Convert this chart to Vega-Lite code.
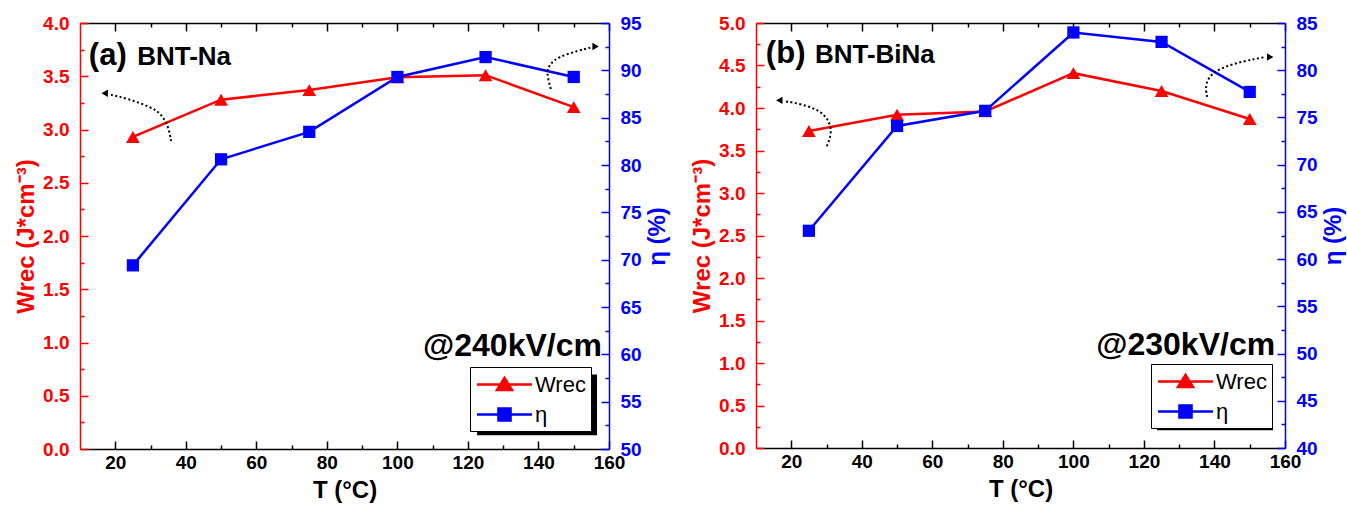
{
  "$schema": "https://vega.github.io/schema/vega-lite/v6.json",
  "padding": {"left": 14, "top": 14, "right": 5, "bottom": 5},
  "spacing": 20,
  "config": {
    "view": {"stroke": null},
    "font": "Liberation Sans",
    "axis": {"labelFont": "Liberation Sans", "labelFontWeight": "bold", "labelFontSize": 19, "titleFont": "Liberation Sans", "titleFontWeight": "bold", "titleFontSize": 24, "grid": false, "domainWidth": 1.5, "tickWidth": 1.5, "labelFlush": false}
  },
  "datasets": {
    "main": [
      {"panel": "a", "series": "Wrec", "T": 25, "value": 2.93},
      {"panel": "a", "series": "Wrec", "T": 50, "value": 3.28},
      {"panel": "a", "series": "Wrec", "T": 75, "value": 3.37},
      {"panel": "a", "series": "Wrec", "T": 100, "value": 3.49},
      {"panel": "a", "series": "Wrec", "T": 125, "value": 3.51},
      {"panel": "a", "series": "Wrec", "T": 150, "value": 3.21},
      {"panel": "a", "series": "η", "T": 25, "value": 69.4},
      {"panel": "a", "series": "η", "T": 50, "value": 80.6},
      {"panel": "a", "series": "η", "T": 75, "value": 83.5},
      {"panel": "a", "series": "η", "T": 100, "value": 89.3},
      {"panel": "a", "series": "η", "T": 125, "value": 91.4},
      {"panel": "a", "series": "η", "T": 150, "value": 89.3},
      {"panel": "b", "series": "Wrec", "T": 25, "value": 3.73},
      {"panel": "b", "series": "Wrec", "T": 50, "value": 3.92},
      {"panel": "b", "series": "Wrec", "T": 75, "value": 3.96},
      {"panel": "b", "series": "Wrec", "T": 100, "value": 4.41},
      {"panel": "b", "series": "Wrec", "T": 125, "value": 4.2},
      {"panel": "b", "series": "Wrec", "T": 150, "value": 3.87},
      {"panel": "b", "series": "η", "T": 25, "value": 63.0},
      {"panel": "b", "series": "η", "T": 50, "value": 74.1},
      {"panel": "b", "series": "η", "T": 75, "value": 75.7},
      {"panel": "b", "series": "η", "T": 100, "value": 84.0},
      {"panel": "b", "series": "η", "T": 125, "value": 83.0},
      {"panel": "b", "series": "η", "T": 150, "value": 77.7}
    ],
    "notes": [
      {"panel": "a", "kind": "tag", "text": "(a)", "x": 12.5, "y": 3.61},
      {"panel": "a", "kind": "name", "text": "BNT-Na", "x": 26.2, "y": 3.61},
      {"panel": "a", "kind": "field", "text": "@240kV/cm", "x": 158.0, "y": 0.87},
      {"panel": "b", "kind": "tag", "text": "(b)", "x": 12.8, "y": 4.53},
      {"panel": "b", "kind": "name", "text": "BNT-BiNa", "x": 26.7, "y": 4.53},
      {"panel": "b", "kind": "field", "text": "@230kV/cm", "x": 157.2, "y": 1.1}
    ],
    "arrows": [
      {"panel": "a", "id": "L", "o": 1, "x": 35.8, "y": 2.89},
      {"panel": "a", "id": "L", "o": 2, "x": 35.2, "y": 3.02},
      {"panel": "a", "id": "L", "o": 3, "x": 33.0, "y": 3.15},
      {"panel": "a", "id": "L", "o": 4, "x": 30.1, "y": 3.21},
      {"panel": "a", "id": "L", "o": 5, "x": 23.6, "y": 3.29},
      {"panel": "a", "id": "L", "o": 6, "x": 18.2, "y": 3.33},
      {"panel": "a", "id": "R", "o": 1, "x": 143.5, "y": 3.38},
      {"panel": "a", "id": "R", "o": 2, "x": 142.1, "y": 3.55},
      {"panel": "a", "id": "R", "o": 3, "x": 143.5, "y": 3.62},
      {"panel": "a", "id": "R", "o": 4, "x": 145.5, "y": 3.68},
      {"panel": "a", "id": "R", "o": 5, "x": 151.2, "y": 3.74},
      {"panel": "a", "id": "R", "o": 6, "x": 154.9, "y": 3.77},
      {"panel": "b", "id": "L", "o": 1, "x": 30.1, "y": 3.55},
      {"panel": "b", "id": "L", "o": 2, "x": 31.8, "y": 3.74},
      {"panel": "b", "id": "L", "o": 3, "x": 29.8, "y": 3.92},
      {"panel": "b", "id": "L", "o": 4, "x": 25.9, "y": 4.01},
      {"panel": "b", "id": "L", "o": 5, "x": 20.2, "y": 4.07},
      {"panel": "b", "id": "L", "o": 6, "x": 17.9, "y": 4.08},
      {"panel": "b", "id": "R", "o": 1, "x": 137.9, "y": 4.13},
      {"panel": "b", "id": "R", "o": 2, "x": 137.3, "y": 4.28},
      {"panel": "b", "id": "R", "o": 3, "x": 139.3, "y": 4.42},
      {"panel": "b", "id": "R", "o": 4, "x": 145.0, "y": 4.52},
      {"panel": "b", "id": "R", "o": 5, "x": 151.8, "y": 4.58},
      {"panel": "b", "id": "R", "o": 6, "x": 154.5, "y": 4.6}
    ],
    "heads": [
      {"panel": "a", "dir": "left", "x": 17.0, "y": 3.34},
      {"panel": "a", "dir": "right", "x": 156.2, "y": 3.78},
      {"panel": "b", "dir": "left", "x": 16.6, "y": 4.09},
      {"panel": "b", "dir": "right", "x": 155.8, "y": 4.6}
    ],
    "shadows": [
      {"panel": "a", "x": 122.6, "x2": 156.6, "y": 0.7, "y2": 0.13},
      {"panel": "b", "x": 123.7, "x2": 156.6, "y": 0.9, "y2": 0.21}
    ]
  },
  "resolve": {"scale": {"color": "independent"}, "legend": {"color": "independent"}},
  "hconcat": [
    {
      "width": 529, "height": 426,
      "resolve": {"scale": {"y": "independent"}, "axis": {"x": "independent", "y": "independent"}},
      "layer": [
        {
          "data": {"name": "shadows"},
          "transform": [{"filter": "datum.panel === 'a'"}],
          "mark": {"type": "rect", "color": "black"},
          "encoding": {
            "x": {"field": "x", "type": "quantitative", "scale": {"domain": [10, 160], "nice": false}, "axis": null},
            "x2": {"field": "x2"},
            "y": {"field": "y", "type": "quantitative", "scale": {"domain": [0, 4], "nice": false}, "axis": null},
            "y2": {"field": "y2"}
          }
        },
        {
          "data": {"name": "main"},
          "transform": [{"filter": "datum.panel === 'a' && datum.series === 'Wrec'"}],
          "mark": {"type": "line", "strokeWidth": 2.5},
          "encoding": {
            "x": {"field": "T", "type": "quantitative", "scale": {"domain": [10, 160], "nice": false},
              "axis": {"orient": "bottom", "title": "T (°C)", "values": [20, 30, 40, 50, 60, 70, 80, 90, 100, 110, 120, 130, 140, 150, 160],
                "labelExpr": "datum.value % 20 === 0 ? datum.label : ''",
                "tickSize": {"condition": {"test": "datum.value % 20 !== 0", "value": -4}, "value": -8},
                "labelPadding": 12, "titlePadding": 6, "domainColor": "black", "tickColor": "black", "labelColor": "black", "titleColor": "black"}},
            "y": {"field": "value", "type": "quantitative", "scale": {"domain": [0, 4], "nice": false},
              "axis": {"orient": "left", "title": "Wrec (J*cm⁻³)", "values": [0, 0.25, 0.5, 0.75, 1, 1.25, 1.5, 1.75, 2, 2.25, 2.5, 2.75, 3, 3.25, 3.5, 3.75, 4],
                "labelExpr": "datum.value % 0.5 === 0 ? format(datum.value, '.1f') : ''",
                "tickSize": {"condition": {"test": "datum.value % 0.5 !== 0", "value": -4}, "value": -8},
                "labelPadding": 19, "titlePadding": 4, "domainColor": "#ff0000", "tickColor": "#ff0000", "labelColor": "#ff0000", "titleColor": "#ff0000"}},
            "color": {"field": "series", "type": "nominal", "scale": {"domain": ["Wrec", "η"], "range": ["#ff0000", "#0000ff"]},
              "legend": {"orient": "none", "legendX": 390, "legendY": 344, "title": null, "strokeColor": "black", "fillColor": "white", "padding": 5,
                "labelFont": "Liberation Sans", "labelFontSize": 22, "labelColor": "black", "labelFontWeight": "normal",
                "symbolSize": 484, "symbolStrokeWidth": 2.5, "symbolOffset": 17, "rowPadding": 6, "labelOffset": 18,
                "encode": {"symbols": {"update": {
                  "shape": {"signal": "datum.value === 'Wrec' ? 'M-2.5,0H2.5M-0.68,0.5L0,-0.6L0.68,0.5Z' : 'M-2.5,0H2.5M-0.55,-0.55H0.55V0.55H-0.55Z'"},
                  "fill": {"signal": "datum.value === 'Wrec' ? '#ff0000' : '#0000ff'"},
                  "stroke": {"signal": "datum.value === 'Wrec' ? '#ff0000' : '#0000ff'"}}}}}}
          }
        },
        {
          "data": {"name": "main"},
          "transform": [{"filter": "datum.panel === 'a' && datum.series === 'Wrec'"}],
          "mark": {"type": "point", "shape": "triangle-up", "filled": true, "size": 190, "color": "#ff0000", "opacity": 1},
          "encoding": {
            "x": {"field": "T", "type": "quantitative", "scale": {"domain": [10, 160], "nice": false}, "axis": null},
            "y": {"field": "value", "type": "quantitative", "scale": {"domain": [0, 4], "nice": false}, "axis": null}
          }
        },
        {
          "data": {"name": "main"},
          "transform": [{"filter": "datum.panel === 'a' && datum.series === 'η'"}],
          "mark": {"type": "line", "strokeWidth": 2.5},
          "encoding": {
            "x": {"field": "T", "type": "quantitative", "scale": {"domain": [10, 160], "nice": false},
              "axis": {"orient": "top", "title": null, "labels": false, "values": [20, 30, 40, 50, 60, 70, 80, 90, 100, 110, 120, 130, 140, 150, 160],
                "tickSize": {"condition": {"test": "datum.value % 20 !== 0", "value": -4}, "value": -8},
                "domainColor": "black", "tickColor": "black"}},
            "y": {"field": "value", "type": "quantitative", "scale": {"domain": [50, 95], "nice": false},
              "axis": {"orient": "right", "title": "η (%)", "titleAngle": -90, "titleBaseline": "top", "values": [50, 52.5, 55, 57.5, 60, 62.5, 65, 67.5, 70, 72.5, 75, 77.5, 80, 82.5, 85, 87.5, 90, 92.5, 95],
                "labelExpr": "datum.value % 5 === 0 ? format(datum.value, 'd') : ''",
                "tickSize": {"condition": {"test": "datum.value % 5 !== 0", "value": -4}, "value": -8},
                "labelPadding": 19, "titlePadding": 4, "domainColor": "#0000ff", "tickColor": "#0000ff", "labelColor": "#0000ff", "titleColor": "#0000ff"}},
            "color": {"field": "series", "type": "nominal", "scale": {"domain": ["Wrec", "η"], "range": ["#ff0000", "#0000ff"]}}
          }
        },
        {
          "data": {"name": "main"},
          "transform": [{"filter": "datum.panel === 'a' && datum.series === 'η'"}],
          "mark": {"type": "point", "shape": "square", "filled": true, "size": 150, "color": "#0000ff", "opacity": 1},
          "encoding": {
            "x": {"field": "T", "type": "quantitative", "scale": {"domain": [10, 160], "nice": false}, "axis": null},
            "y": {"field": "value", "type": "quantitative", "scale": {"domain": [50, 95], "nice": false}, "axis": null}
          }
        },
        {
          "data": {"name": "arrows"},
          "transform": [{"filter": "datum.panel === 'a'"}],
          "mark": {"type": "line", "color": "black", "strokeWidth": 2, "strokeDash": [2, 2.5], "interpolate": "basis"},
          "encoding": {
            "x": {"field": "x", "type": "quantitative", "scale": {"domain": [10, 160], "nice": false}, "axis": null},
            "y": {"field": "y", "type": "quantitative", "scale": {"domain": [0, 4], "nice": false}, "axis": null},
            "detail": {"field": "id"},
            "order": {"field": "o"}
          }
        },
        {
          "data": {"name": "heads"},
          "transform": [{"filter": "datum.panel === 'a'"}],
          "mark": {"type": "point", "filled": true, "color": "black", "size": 55, "opacity": 1},
          "encoding": {
            "x": {"field": "x", "type": "quantitative", "scale": {"domain": [10, 160], "nice": false}, "axis": null},
            "y": {"field": "y", "type": "quantitative", "scale": {"domain": [0, 4], "nice": false}, "axis": null},
            "shape": {"field": "dir", "type": "nominal", "scale": {"domain": ["left", "right"], "range": ["triangle-left", "triangle-right"]}, "legend": null}
          }
        },
        {
          "data": {"name": "notes"},
          "transform": [{"filter": "datum.panel === 'a' && datum.kind !== 'field'"}],
          "mark": {"type": "text", "align": "left", "baseline": "alphabetic", "color": "black", "fontWeight": "bold"},
          "encoding": {
            "x": {"field": "x", "type": "quantitative", "scale": {"domain": [10, 160], "nice": false}, "axis": null},
            "y": {"field": "y", "type": "quantitative", "scale": {"domain": [0, 4], "nice": false}, "axis": null},
            "text": {"field": "text"},
            "size": {"field": "kind", "type": "nominal", "scale": {"domain": ["tag", "name"], "range": [31, 26]}, "legend": null}
          }
        },
        {
          "data": {"name": "notes"},
          "transform": [{"filter": "datum.panel === 'a' && datum.kind === 'field'"}],
          "mark": {"type": "text", "align": "right", "baseline": "alphabetic", "color": "black", "fontWeight": "bold", "fontSize": 32},
          "encoding": {
            "x": {"field": "x", "type": "quantitative", "scale": {"domain": [10, 160], "nice": false}, "axis": null},
            "y": {"field": "y", "type": "quantitative", "scale": {"domain": [0, 4], "nice": false}, "axis": null},
            "text": {"field": "text"}
          }
        }
      ]
    },
    {
      "width": 529, "height": 425,
      "resolve": {"scale": {"y": "independent"}, "axis": {"x": "independent", "y": "independent"}},
      "layer": [
        {
          "data": {"name": "shadows"},
          "transform": [{"filter": "datum.panel === 'b'"}],
          "mark": {"type": "rect", "color": "black"},
          "encoding": {
            "x": {"field": "x", "type": "quantitative", "scale": {"domain": [10, 160], "nice": false}, "axis": null},
            "x2": {"field": "x2"},
            "y": {"field": "y", "type": "quantitative", "scale": {"domain": [0, 5], "nice": false}, "axis": null},
            "y2": {"field": "y2"}
          }
        },
        {
          "data": {"name": "main"},
          "transform": [{"filter": "datum.panel === 'b' && datum.series === 'Wrec'"}],
          "mark": {"type": "line", "strokeWidth": 2.5},
          "encoding": {
            "x": {"field": "T", "type": "quantitative", "scale": {"domain": [10, 160], "nice": false},
              "axis": {"orient": "bottom", "title": "T (°C)", "values": [20, 30, 40, 50, 60, 70, 80, 90, 100, 110, 120, 130, 140, 150, 160],
                "labelExpr": "datum.value % 20 === 0 ? datum.label : ''",
                "tickSize": {"condition": {"test": "datum.value % 20 !== 0", "value": -4}, "value": -8},
                "labelPadding": 12, "titlePadding": 6, "domainColor": "black", "tickColor": "black", "labelColor": "black", "titleColor": "black"}},
            "y": {"field": "value", "type": "quantitative", "scale": {"domain": [0, 5], "nice": false},
              "axis": {"orient": "left", "title": "Wrec (J*cm⁻³)", "values": [0, 0.25, 0.5, 0.75, 1, 1.25, 1.5, 1.75, 2, 2.25, 2.5, 2.75, 3, 3.25, 3.5, 3.75, 4, 4.25, 4.5, 4.75, 5],
                "labelExpr": "datum.value % 0.5 === 0 ? format(datum.value, '.1f') : ''",
                "tickSize": {"condition": {"test": "datum.value % 0.5 !== 0", "value": -4}, "value": -8},
                "labelPadding": 19, "titlePadding": 4, "domainColor": "#ff0000", "tickColor": "#ff0000", "labelColor": "#ff0000", "titleColor": "#ff0000"}},
            "color": {"field": "series", "type": "nominal", "scale": {"domain": ["Wrec", "η"], "range": ["#ff0000", "#0000ff"]},
              "legend": {"orient": "none", "legendX": 395, "legendY": 341, "title": null, "strokeColor": "black", "fillColor": "white", "padding": 5,
                "labelFont": "Liberation Sans", "labelFontSize": 22, "labelColor": "black", "labelFontWeight": "normal",
                "symbolSize": 484, "symbolStrokeWidth": 2.5, "symbolOffset": 17, "rowPadding": 6, "labelOffset": 18,
                "encode": {"symbols": {"update": {
                  "shape": {"signal": "datum.value === 'Wrec' ? 'M-2.5,0H2.5M-0.68,0.5L0,-0.6L0.68,0.5Z' : 'M-2.5,0H2.5M-0.55,-0.55H0.55V0.55H-0.55Z'"},
                  "fill": {"signal": "datum.value === 'Wrec' ? '#ff0000' : '#0000ff'"},
                  "stroke": {"signal": "datum.value === 'Wrec' ? '#ff0000' : '#0000ff'"}}}}}}
          }
        },
        {
          "data": {"name": "main"},
          "transform": [{"filter": "datum.panel === 'b' && datum.series === 'Wrec'"}],
          "mark": {"type": "point", "shape": "triangle-up", "filled": true, "size": 190, "color": "#ff0000", "opacity": 1},
          "encoding": {
            "x": {"field": "T", "type": "quantitative", "scale": {"domain": [10, 160], "nice": false}, "axis": null},
            "y": {"field": "value", "type": "quantitative", "scale": {"domain": [0, 5], "nice": false}, "axis": null}
          }
        },
        {
          "data": {"name": "main"},
          "transform": [{"filter": "datum.panel === 'b' && datum.series === 'η'"}],
          "mark": {"type": "line", "strokeWidth": 2.5},
          "encoding": {
            "x": {"field": "T", "type": "quantitative", "scale": {"domain": [10, 160], "nice": false},
              "axis": {"orient": "top", "title": null, "labels": false, "values": [20, 30, 40, 50, 60, 70, 80, 90, 100, 110, 120, 130, 140, 150, 160],
                "tickSize": {"condition": {"test": "datum.value % 20 !== 0", "value": -4}, "value": -8},
                "domainColor": "black", "tickColor": "black"}},
            "y": {"field": "value", "type": "quantitative", "scale": {"domain": [40, 85], "nice": false},
              "axis": {"orient": "right", "title": "η (%)", "titleAngle": -90, "titleBaseline": "top", "values": [40, 42.5, 45, 47.5, 50, 52.5, 55, 57.5, 60, 62.5, 65, 67.5, 70, 72.5, 75, 77.5, 80, 82.5, 85],
                "labelExpr": "datum.value % 5 === 0 ? format(datum.value, 'd') : ''",
                "tickSize": {"condition": {"test": "datum.value % 5 !== 0", "value": -4}, "value": -8},
                "labelPadding": 19, "titlePadding": 4, "domainColor": "#0000ff", "tickColor": "#0000ff", "labelColor": "#0000ff", "titleColor": "#0000ff"}},
            "color": {"field": "series", "type": "nominal", "scale": {"domain": ["Wrec", "η"], "range": ["#ff0000", "#0000ff"]}}
          }
        },
        {
          "data": {"name": "main"},
          "transform": [{"filter": "datum.panel === 'b' && datum.series === 'η'"}],
          "mark": {"type": "point", "shape": "square", "filled": true, "size": 150, "color": "#0000ff", "opacity": 1},
          "encoding": {
            "x": {"field": "T", "type": "quantitative", "scale": {"domain": [10, 160], "nice": false}, "axis": null},
            "y": {"field": "value", "type": "quantitative", "scale": {"domain": [40, 85], "nice": false}, "axis": null}
          }
        },
        {
          "data": {"name": "arrows"},
          "transform": [{"filter": "datum.panel === 'b'"}],
          "mark": {"type": "line", "color": "black", "strokeWidth": 2, "strokeDash": [2, 2.5], "interpolate": "basis"},
          "encoding": {
            "x": {"field": "x", "type": "quantitative", "scale": {"domain": [10, 160], "nice": false}, "axis": null},
            "y": {"field": "y", "type": "quantitative", "scale": {"domain": [0, 5], "nice": false}, "axis": null},
            "detail": {"field": "id"},
            "order": {"field": "o"}
          }
        },
        {
          "data": {"name": "heads"},
          "transform": [{"filter": "datum.panel === 'b'"}],
          "mark": {"type": "point", "filled": true, "color": "black", "size": 55, "opacity": 1},
          "encoding": {
            "x": {"field": "x", "type": "quantitative", "scale": {"domain": [10, 160], "nice": false}, "axis": null},
            "y": {"field": "y", "type": "quantitative", "scale": {"domain": [0, 5], "nice": false}, "axis": null},
            "shape": {"field": "dir", "type": "nominal", "scale": {"domain": ["left", "right"], "range": ["triangle-left", "triangle-right"]}, "legend": null}
          }
        },
        {
          "data": {"name": "notes"},
          "transform": [{"filter": "datum.panel === 'b' && datum.kind !== 'field'"}],
          "mark": {"type": "text", "align": "left", "baseline": "alphabetic", "color": "black", "fontWeight": "bold"},
          "encoding": {
            "x": {"field": "x", "type": "quantitative", "scale": {"domain": [10, 160], "nice": false}, "axis": null},
            "y": {"field": "y", "type": "quantitative", "scale": {"domain": [0, 5], "nice": false}, "axis": null},
            "text": {"field": "text"},
            "size": {"field": "kind", "type": "nominal", "scale": {"domain": ["tag", "name"], "range": [31, 26]}, "legend": null}
          }
        },
        {
          "data": {"name": "notes"},
          "transform": [{"filter": "datum.panel === 'b' && datum.kind === 'field'"}],
          "mark": {"type": "text", "align": "right", "baseline": "alphabetic", "color": "black", "fontWeight": "bold", "fontSize": 32},
          "encoding": {
            "x": {"field": "x", "type": "quantitative", "scale": {"domain": [10, 160], "nice": false}, "axis": null},
            "y": {"field": "y", "type": "quantitative", "scale": {"domain": [0, 5], "nice": false}, "axis": null},
            "text": {"field": "text"}
          }
        }
      ]
    }
  ]
}
